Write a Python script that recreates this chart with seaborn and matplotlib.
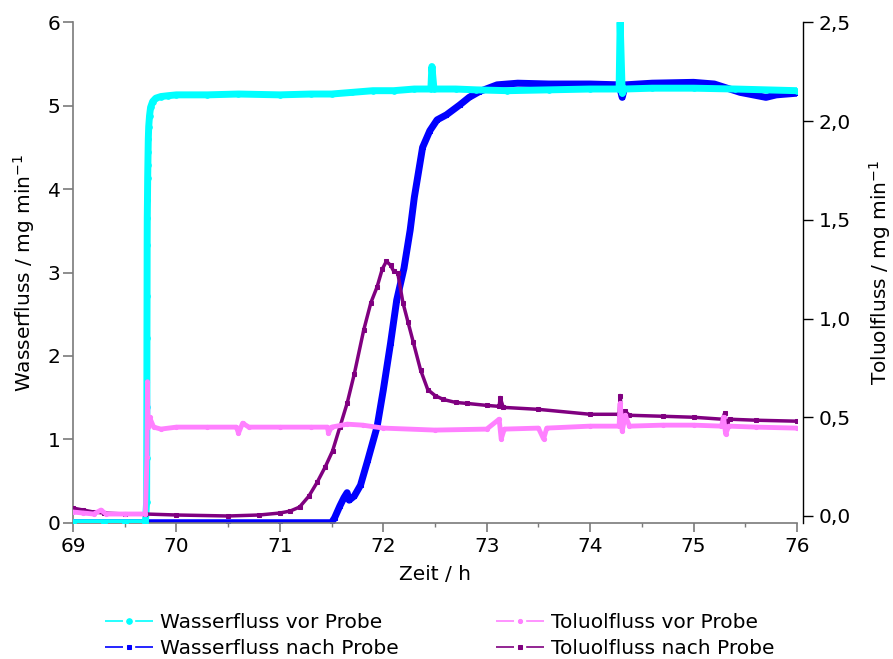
import matplotlib
matplotlib.use("Agg")
import matplotlib.pyplot as plt
from matplotlib.ticker import MultipleLocator, FuncFormatter
import seaborn as sns

# Wasserfluss vor Probe (linke Achse, mg/min)
zeit_wasser_vor = [69.0, 69.3, 69.5, 69.70, 69.712, 69.713, 69.714, 69.715, 69.716,
                   69.717, 69.718, 69.72, 69.722, 69.724, 69.726, 69.728, 69.732,
                   69.74, 69.75, 69.77, 69.80, 69.85, 69.92, 70.0, 70.3, 70.6, 71.0,
                   71.3, 71.5, 71.7, 71.9, 72.1, 72.3, 72.46, 72.47, 72.49, 72.7,
                   72.9, 73.2, 73.6, 74.0, 74.28, 74.29, 74.31, 74.33, 74.6, 75.0,
                   75.4, 75.7, 76.0]
wasser_vor = [0.0, 0.0, 0.0, 0.0, 0.25, 0.78, 1.39, 2.22, 2.72,
              3.33, 3.65, 3.87, 4.13, 4.29, 4.45, 4.60, 4.75,
              4.88, 4.98, 5.05, 5.09, 5.11, 5.12, 5.13, 5.13, 5.14, 5.13,
              5.14, 5.14, 5.16, 5.18, 5.18, 5.20, 5.20, 5.47, 5.20, 5.20,
              5.19, 5.18, 5.19, 5.20, 5.20, 6.00, 5.15, 5.20, 5.21, 5.21,
              5.20, 5.19, 5.18]

# Wasserfluss nach Probe (linke Achse, mg/min)
zeit_wasser_nach = [69.0, 69.7, 70.5, 71.0, 71.5, 71.53, 71.58, 71.62, 71.65, 71.67,
                    71.72, 71.78, 71.85, 71.94, 72.0, 72.07, 72.13, 72.2, 72.26,
                    72.3, 72.38, 72.45, 72.52, 72.61, 72.74, 72.83, 72.93, 73.1,
                    73.3, 73.6, 74.0, 74.28, 74.31, 74.34, 74.6, 75.0, 75.2, 75.45,
                    75.7, 75.8, 76.0]
wasser_nach = [0.0, 0.0, 0.0, 0.0, 0.0, 0.06, 0.20, 0.30, 0.36, 0.27,
               0.32, 0.45, 0.75, 1.15, 1.59, 2.15, 2.67, 3.05, 3.51,
               3.90, 4.50, 4.70, 4.83, 4.89, 5.01, 5.10, 5.17, 5.25,
               5.27, 5.26, 5.26, 5.25, 5.10, 5.25, 5.27, 5.28, 5.26, 5.16,
               5.10, 5.13, 5.15]

# Toluolfluss vor Probe (rechte Achse, mg/min)
zeit_toluol_vor = [69.0, 69.1, 69.2, 69.27, 69.32, 69.5, 69.70, 69.715, 69.72,
                   69.725, 69.74, 69.78, 69.85, 70.0, 70.3, 70.58, 70.6, 70.64,
                   70.7, 71.0, 71.3, 71.46, 71.47, 71.5, 71.65, 71.8, 72.0, 72.5,
                   73.0, 73.12, 73.14, 73.17, 73.5, 73.55, 73.58, 74.0, 74.28,
                   74.29, 74.31, 74.34, 74.38, 74.7, 75.0, 75.27, 75.29, 75.31,
                   75.34, 75.6, 76.0]
toluol_vor = [0.020, 0.015, 0.010, 0.030, 0.010, 0.010, 0.010, 0.30, 0.68,
              0.45, 0.50, 0.45, 0.44, 0.45, 0.45, 0.45, 0.42, 0.47,
              0.45, 0.45, 0.45, 0.45, 0.42, 0.45, 0.465, 0.46, 0.445, 0.435,
              0.44, 0.49, 0.39, 0.44, 0.445, 0.39, 0.445, 0.455, 0.455,
              0.57, 0.43, 0.51, 0.455, 0.46, 0.46, 0.455, 0.50, 0.415,
              0.455, 0.45, 0.445]

# Toluolfluss nach Probe (rechte Achse, mg/min)
zeit_toluol_nach = [69.0, 69.1, 69.2, 69.3, 69.5, 69.7, 70.0, 70.5, 70.8, 71.0,
                    71.1, 71.19, 71.28, 71.36, 71.44, 71.51, 71.58, 71.65, 71.72,
                    71.81, 71.88, 71.94, 71.99, 72.03, 72.07, 72.1, 72.14, 72.19,
                    72.24, 72.29, 72.36, 72.43, 72.5, 72.58, 72.7, 72.81, 73.0,
                    73.12, 73.13, 73.16, 73.5, 74.0, 74.28, 74.29, 74.31, 74.34,
                    74.38, 74.7, 75.0, 75.28, 75.3, 75.32, 75.35, 75.6, 76.0]
toluol_nach = [0.040, 0.030, 0.020, 0.015, 0.010, 0.010, 0.005, 0.0, 0.005, 0.015,
               0.025, 0.045, 0.10, 0.17, 0.25, 0.33, 0.45, 0.57, 0.72,
               0.94, 1.08, 1.16, 1.25, 1.29, 1.27, 1.24, 1.23, 1.08,
               0.98, 0.88, 0.74, 0.64, 0.61, 0.59, 0.575, 0.57, 0.56,
               0.555, 0.60, 0.55, 0.54, 0.515, 0.515, 0.61, 0.48, 0.53,
               0.51, 0.505, 0.50, 0.49, 0.52, 0.47, 0.49, 0.485, 0.48]

x_ticks = [69, 70, 71, 72, 73, 74, 75, 76]
y_left_ticks = [0, 1, 2, 3, 4, 5, 6]
y_right_ticks = [0.0, 0.5, 1.0, 1.5, 2.0, 2.5]

sns.set_style("ticks")
plt.rcParams["font.family"] = ["DejaVu Sans"]
plt.rcParams["mathtext.fontset"] = "dejavusans"
plt.rcParams["text.color"] = "black"
plt.rcParams["axes.labelcolor"] = "black"
plt.rcParams["xtick.labelcolor"] = "black"
plt.rcParams["ytick.labelcolor"] = "black"
fs = 14.5

fig = plt.figure(figsize=(8.93, 6.59), dpi=100)
ax = fig.add_axes([73 / 893, 1 - 522.7 / 659, 724 / 893, 500.4 / 659])
ax2 = ax.twinx()

line_kw = dict(estimator=None, sort=False, legend=False)

sns.lineplot(x=zeit_wasser_nach, y=wasser_nach, ax=ax, color="#0000FF", lw=5,
             marker="s", ms=3.5, mec="#0000FF", label="Wasserfluss nach Probe",
             zorder=2, **line_kw)
sns.lineplot(x=zeit_wasser_vor, y=wasser_vor, ax=ax, color="#00FFFF", lw=5,
             marker="o", ms=4, mec="#00FFFF", label="Wasserfluss vor Probe",
             zorder=3, **line_kw)
sns.lineplot(x=zeit_toluol_nach, y=toluol_nach, ax=ax2, color="#800080", lw=2.5,
             marker="s", ms=3.5, mec="#800080", label="Toluolfluss nach Probe",
             zorder=2, **line_kw)
sns.lineplot(x=zeit_toluol_vor, y=toluol_vor, ax=ax2, color="#FF80FF", lw=3.5,
             marker="o", ms=3, mec="#FF80FF", label="Toluolfluss vor Probe",
             zorder=3, **line_kw)

# Achsenbereiche und Ticks
ax.set_xlim(69, 76)
ax.set_ylim(0, 6)
ax2.set_ylim(-0.034, 2.5)
ax.set_xticks(x_ticks)
ax.xaxis.set_minor_locator(MultipleLocator(0.5))
ax.set_yticks(y_left_ticks)
ax2.set_yticks(y_right_ticks)
ax2.yaxis.set_major_formatter(FuncFormatter(lambda v, p: f"{v:.1f}".replace(".", ",")))

grey = "#7a7a7a"
for side in ["top", "right"]:
    ax.spines[side].set_visible(False)
for side in ["left", "bottom"]:
    ax.spines[side].set_color(grey)
    ax.spines[side].set_linewidth(1.2)
for side in ["top", "left", "bottom"]:
    ax2.spines[side].set_visible(False)
ax2.spines["right"].set_color("black")
ax2.spines["right"].set_linewidth(1.0)
ax2.spines["right"].set_position(("outward", 4.5))

ax.tick_params(axis="x", which="major", direction="out", length=6.5, width=1.2,
               color=grey, labelsize=fs, pad=4)
ax.tick_params(axis="x", which="minor", direction="out", length=3, width=1.0,
               color=grey)
ax.tick_params(axis="y", direction="out", length=7, width=1.2, color=grey,
               labelsize=fs, pad=2)
ax2.tick_params(axis="y", direction="out", length=7, width=1.0, color="black",
                labelsize=fs, pad=4)

ax.set_xlabel("Zeit / h", fontsize=fs, labelpad=6)
ax.set_ylabel("Wasserfluss / mg min$^{-1}$", fontsize=fs, labelpad=8)
ax2.set_ylabel("Toluolfluss / mg min$^{-1}$", fontsize=fs, labelpad=12)

# Legende unterhalb der Achsen, zweispaltig
handles, labels = [], []
for a in (ax, ax2):
    h, l = a.get_legend_handles_labels()
    handles += h
    labels += l
order = ["Wasserfluss vor Probe", "Wasserfluss nach Probe",
         "Toluolfluss vor Probe", "Toluolfluss nach Probe"]
hs = [handles[labels.index(n)] for n in order]
leg = fig.legend(hs, order, loc="upper left", bbox_to_anchor=(105 / 893, 1 - 613 / 659),
                 ncol=2, frameon=False, fontsize=fs, handlelength=2.4,
                 handletextpad=0.35, columnspacing=4.8, labelspacing=0.37,
                 borderpad=0, borderaxespad=0, numpoints=1)
# Legendensymbol: Linie - Punkt - Linie mit Lücken um den Marker
for ln in leg.get_lines():
    ln.set_linewidth(1.2)
    ln.set_linestyle((0, (10.8, 7.3)))

fig.savefig("out.png", dpi=100, facecolor="white")
